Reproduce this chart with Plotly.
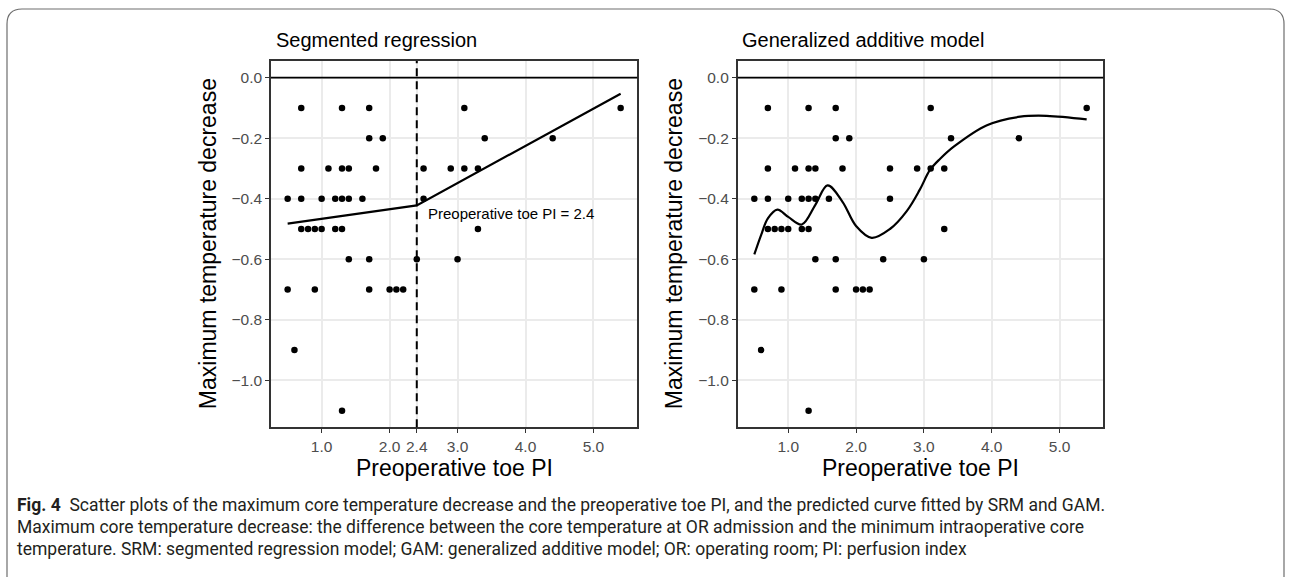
import plotly.graph_objects as go

# ---------------- data ----------------
pi_x = [0.7, 1.3, 1.7, 3.1, 5.4,
        1.7, 1.9, 3.4, 4.4,
        0.7, 1.1, 1.3, 1.4, 1.8, 2.5, 2.9, 3.1, 3.3,
        0.5, 0.7, 1.0, 1.2, 1.3, 1.4, 1.6, 2.5,
        0.7, 0.8, 0.9, 1.0, 1.2, 1.3, 3.3,
        1.4, 1.7, 2.4, 3.0,
        0.5, 0.9, 1.7, 2.0, 2.1, 2.2,
        0.6,
        1.3]
temp_dec = [-0.1, -0.1, -0.1, -0.1, -0.1,
            -0.2, -0.2, -0.2, -0.2,
            -0.3, -0.3, -0.3, -0.3, -0.3, -0.3, -0.3, -0.3, -0.3,
            -0.4, -0.4, -0.4, -0.4, -0.4, -0.4, -0.4, -0.4,
            -0.5, -0.5, -0.5, -0.5, -0.5, -0.5, -0.5,
            -0.6, -0.6, -0.6, -0.6,
            -0.7, -0.7, -0.7, -0.7, -0.7, -0.7,
            -0.9,
            -1.1]

# segmented regression fit (start, breakpoint, end)
srm_x = [0.5, 2.4, 5.4]
srm_y = [-0.482, -0.422, -0.053]
breakpoint = 2.4

# GAM fitted curve
gam_x = [0.5, 0.6, 0.7, 0.84, 1.0, 1.2, 1.4, 1.58, 1.8, 2.0, 2.23, 2.5, 2.75,
         2.94, 3.09, 3.24, 3.44, 3.93, 4.42, 4.81, 5.4]
gam_y = [-0.584, -0.52, -0.465, -0.436, -0.46, -0.485, -0.42, -0.356, -0.41,
         -0.49, -0.529, -0.50, -0.44, -0.37, -0.305, -0.268, -0.228, -0.157,
         -0.129, -0.126, -0.138]

left_xticks = [1.0, 2.0, 2.4, 3.0, 4.0, 5.0]
left_xlabels = ["1.0", "2.0", "2.4", "3.0", "4.0", "5.0"]
right_xticks = [1.0, 2.0, 3.0, 4.0, 5.0]
right_xlabels = ["1.0", "2.0", "3.0", "4.0", "5.0"]
yticks = [0.0, -0.2, -0.4, -0.6, -0.8, -1.0]
ylabels = ["0.0", "\u22120.2", "\u22120.4", "\u22120.6", "\u22120.8", "\u22121.0"]

title_left = "Segmented regression"
title_right = "Generalized additive model"
x_title = "Preoperative toe PI"
y_title = "Maximum temperature decrease"
bp_label = "Preoperative toe PI = 2.4"
caption_lines = [
    "<b>Fig. 4</b>  Scatter plots of the maximum core temperature decrease and the preoperative toe PI, and the predicted curve fitted by SRM and GAM.",
    "Maximum core temperature decrease: the difference between the core temperature at OR admission and the minimum intraoperative core",
    "temperature. SRM: segmented regression model; GAM: generalized additive model; OR: operating room; PI: perfusion index",
]

# ---------------- layout geometry ----------------
W, H = 1292, 577
def px(x):
    return x / W
def py(y):
    return 1 - y / H

xdom_l = [px(271), px(637.3)]
xdom_r = [px(737.7), px(1103.3)]
ydom = [py(427.3), py(61)]
xrange_ = [0.255, 5.645]
yrange_ = [-1.155, 0.055]

FONT = "Liberation Sans, Arial, Helvetica, sans-serif"
TICKC = "#4D4D4D"
GRID = "#EBEBEB"
BORDER = "#333333"

fig = go.Figure()

marker = dict(color="black", size=6.5)
fig.add_trace(go.Scatter(x=pi_x, y=temp_dec, mode="markers", marker=marker,
                         xaxis="x", yaxis="y", showlegend=False, hoverinfo="skip"))
fig.add_trace(go.Scatter(x=srm_x, y=srm_y, mode="lines", line=dict(color="black", width=2.2),
                         xaxis="x", yaxis="y", showlegend=False, hoverinfo="skip"))
fig.add_trace(go.Scatter(x=pi_x, y=temp_dec, mode="markers", marker=marker,
                         xaxis="x2", yaxis="y2", showlegend=False, hoverinfo="skip"))
fig.add_trace(go.Scatter(x=gam_x, y=gam_y, mode="lines",
                         line=dict(color="black", width=2.2, shape="spline", smoothing=1.0),
                         xaxis="x2", yaxis="y2", showlegend=False, hoverinfo="skip"))

axis_common = dict(showgrid=True, gridcolor=GRID, gridwidth=1.6, zeroline=False,
                   showline=True, linecolor=BORDER, linewidth=1.6, mirror=True,
                   ticks="outside", ticklen=4, tickcolor=BORDER, tickwidth=1.3,
                   tickfont=dict(family=FONT, size=15.5, color=TICKC))

fig.update_layout(
    width=W, height=H,
    margin=dict(l=0, r=0, t=0, b=0),
    paper_bgcolor="white", plot_bgcolor="white",
    xaxis=dict(domain=xdom_l, range=xrange_, tickmode="array", tickvals=left_xticks,
               ticktext=left_xlabels, anchor="y", **axis_common),
    yaxis=dict(domain=ydom, range=yrange_, tickmode="array", tickvals=yticks,
               ticktext=ylabels, anchor="x", **axis_common),
    xaxis2=dict(domain=xdom_r, range=xrange_, tickmode="array", tickvals=right_xticks,
                ticktext=right_xlabels, anchor="y2", **axis_common),
    yaxis2=dict(domain=ydom, range=yrange_, tickmode="array", tickvals=yticks,
                ticktext=ylabels, anchor="x2", **axis_common),
)

shapes = []
# zero reference lines
for xr in ["x", "x2"]:
    yr = "y" if xr == "x" else "y2"
    shapes.append(dict(type="line", xref=f"{xr} domain", yref=yr, x0=0, x1=1, y0=0, y1=0,
                       line=dict(color="black", width=1.8), layer="above"))
# breakpoint dashed line
shapes.append(dict(type="line", xref="x", yref="y domain", x0=breakpoint, x1=breakpoint,
                   y0=0, y1=1, line=dict(color="black", width=2, dash="8px,5px"), layer="above"))
# rounded figure frame
r_x, r_y = 15 / W, 15 / H
x0, x1 = px(7), px(1284)
yt, yb = py(9), -0.1
path = (f"M {x0},{yb} L {x0},{yt - r_y} Q {x0},{yt} {x0 + r_x},{yt} "
        f"L {x1 - r_x},{yt} Q {x1},{yt} {x1},{yt - r_y} L {x1},{yb}")
shapes.append(dict(type="path", xref="paper", yref="paper", path=path,
                   line=dict(color="#6E6E6E", width=1.2)))
fig.update_layout(shapes=shapes)

ann = []
ann.append(dict(text=title_left, xref="paper", yref="paper", x=px(274), y=py(40),
                xanchor="left", yanchor="middle", showarrow=False,
                font=dict(family=FONT, size=20, color="black")))
ann.append(dict(text=title_right, xref="paper", yref="paper", x=px(740), y=py(40),
                xanchor="left", yanchor="middle", showarrow=False,
                font=dict(family=FONT, size=20, color="black")))
for dom in (xdom_l, xdom_r):
    ann.append(dict(text=x_title, xref="paper", yref="paper", x=(dom[0] + dom[1]) / 2,
                    y=py(468), xanchor="center", yanchor="middle", showarrow=False,
                    font=dict(family=FONT, size=23, color="black")))
for xc in (208, 674):
    ann.append(dict(text=y_title, xref="paper", yref="paper", x=px(xc),
                    y=(ydom[0] + ydom[1]) / 2, xanchor="center", yanchor="middle",
                    textangle=-90, showarrow=False,
                    font=dict(family=FONT, size=23, color="black")))
ann.append(dict(text=bp_label, xref="x", yref="y", x=2.53, y=-0.45, xanchor="left",
                yanchor="middle", showarrow=False,
                font=dict(family=FONT, size=15, color="black")))
for i, line in enumerate(caption_lines):
    ann.append(dict(text=line, xref="paper", yref="paper", x=px(15), y=py(505 + 22 * i),
                    xanchor="left", yanchor="middle", showarrow=False,
                    font=dict(family="Roboto, sans-serif", size=17.5, color="#231F20")))
fig.update_layout(annotations=ann)

fig.write_html("out.html")
